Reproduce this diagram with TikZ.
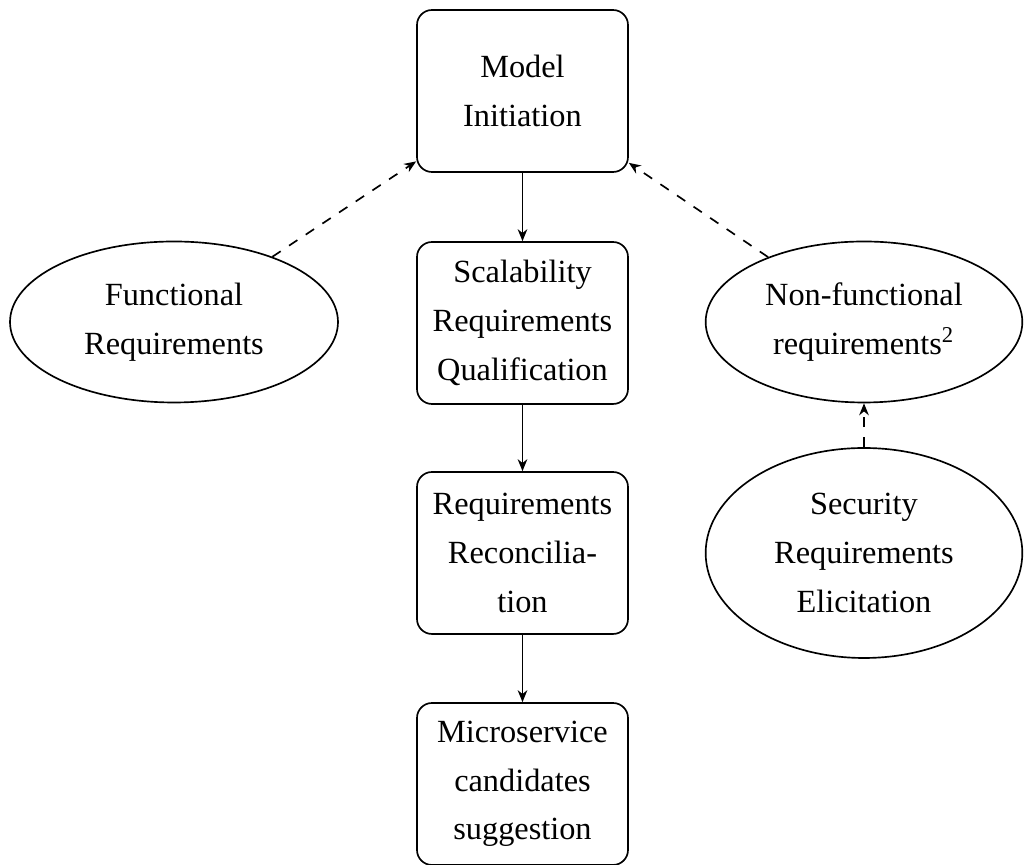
\documentclass[tikz,border=0pt]{standalone}
\usepackage{fontspec}
\setmainfont{Liberation Serif}
\usetikzlibrary{shapes.geometric,arrows.meta}
\tikzset{
  txt/.style={align=center, font=\fontsize{9.7}{14.6}\selectfont, inner sep=0pt, line width=0.5pt},
  procbox/.style={txt, draw, rectangle, rounded corners=4.5pt, minimum width=63.3pt, minimum height=48.6pt},
  reqell/.style={txt, draw, ellipse, minimum width=98.4pt, minimum height=48.3pt},
  flow/.style={line width=0.5pt, -{Stealth[length=3.6pt,width=2.9pt]}},
  dflow/.style={flow, dashed}
}
\begin{document}
\begin{tikzpicture}[x=0.3pt,y=-0.3pt]
\useasboundingbox (0,0) rectangle (1024,865);
\node[procbox] (model) at (522.5,91) {Model\\Initiation};
\node[procbox] (scal) at (522.5,323) {Scalability\\Requirements\\Qualification};
\node[procbox] (recon) at (522.5,553) {Requirements\\Reconcilia-\\tion};
\node[procbox] (micro) at (522.5,784) {Microservice\\candidates\\suggestion};
\node[reqell] (func) at (174,322) {Functional\\Requirements};
\node[reqell, minimum width=95pt] (nonf) at (864,322) {Non-functional\\requirements\textsuperscript{2}};
\node[reqell, minimum width=95pt, minimum height=63pt] (sec) at (864,553) {Security\\Requirements\\Elicitation};
\draw[flow] (model) -- (scal);
\draw[flow] (scal) -- (recon);
\draw[flow] (recon) -- (micro);
\draw[dflow] (func) -- (model);
\draw[dflow] (nonf) -- (model);
\draw[dflow] (sec) -- (nonf);
\end{tikzpicture}
\end{document}
